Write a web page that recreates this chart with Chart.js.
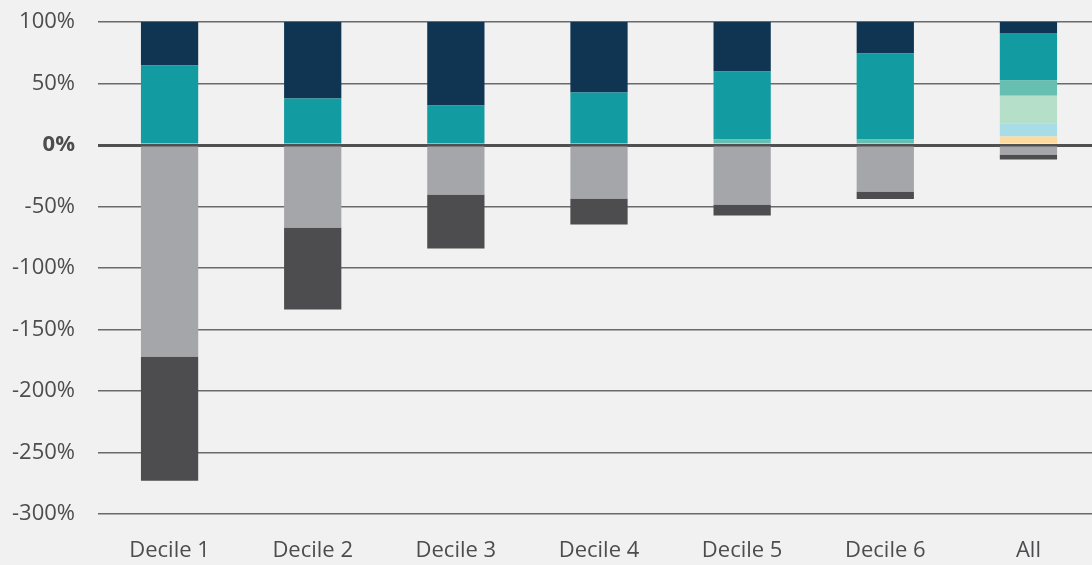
<!DOCTYPE html>
<html>
<head>
<meta charset="utf-8">
<script src="https://cdn.jsdelivr.net/npm/chart.js@4.4.1/dist/chart.umd.min.js"></script>
<style>
html,body{margin:0;padding:0;background:#f1f1f1;overflow:hidden;}
#wrap{width:1100px;height:565px;position:relative;}
</style>
</head>
<body>
<div id="wrap"><canvas id="c"></canvas></div>
<script>
const categories = ['Decile 1','Decile 2','Decile 3','Decile 4','Decile 5','Decile 6','All'];
const peach      = [0, 0, 0, 0, 0, 0, 6.9];
const lightBlue  = [0, 0, 0, 0, 1.2, 1.2, 10.8];
const lightGreen = [0, 0, 0, 0, 0, 0, 22.3];
const mint       = [0, 0, 0, 0, 3.3, 3.3, 12.4];
const teal       = [64.6, 37.8, 32.1, 42.7, 55.3, 69.9, 38.6];
const navy       = [35.4, 62.2, 67.9, 57.3, 40.2, 25.6, 9.0];
const grey       = [-172, -67, -40.2, -43.5, -48.4, -37.8, -7.7];
const darkGrey   = [-101, -66.7, -43.9, -21.1, -8.9, -6.2, -4.1];
const yTicks = [100, 50, 0, -50, -100, -150, -200, -250, -300];

const FONT = "'Open Sans', sans-serif";
const series = [
  {label:'Peach', data:peach, backgroundColor:'#fddba0'},
  {label:'Light blue', data:lightBlue, backgroundColor:'#a8dde8'},
  {label:'Light green', data:lightGreen, backgroundColor:'#b5dfc8'},
  {label:'Mint', data:mint, backgroundColor:'#66bfb0'},
  {label:'Teal', data:teal, backgroundColor:'#129ba0'},
  {label:'Navy', data:navy, backgroundColor:'#0f3552'},
  {label:'Grey', data:grey, backgroundColor:'#a5a6a9'},
  {label:'Dark grey', data:darkGrey, backgroundColor:'#4d4d4f'}
];

new Chart(document.getElementById('c'), {
  type: 'bar',
  data: {
    labels: categories,
    datasets: series.map(s => Object.assign({barPercentage:0.4, categoryPercentage:1, borderWidth:0}, s))
  },
  options: {
    responsive: true,
    maintainAspectRatio: false,
    devicePixelRatio: 1,
    animation: false,
    layout: {padding: {top: 22, right: 0, left: 0, bottom: 0}},
    plugins: {legend: {display:false}, tooltip: {enabled:false}},
    scales: {
      x: {
        stacked: true,
        afterFit: (axis) => { axis.height = 51; axis.paddingLeft = 0; axis.paddingRight = 0; },
        grid: {display:false, drawTicks:false},
        border: {display:false},
        ticks: {color:'#4d4d4f', font:{family:FONT, size:22}, padding: 24}
      },
      y: {
        stacked: true,
        min: -300, max: 100,
        afterBuildTicks: (axis) => { axis.ticks = yTicks.map(v => ({value: v})); },
        afterFit: (axis) => { axis.width = 98; axis.paddingTop = 0; axis.paddingBottom = 0; },
        grid: {
          drawTicks: false,
          color: (ctx) => ctx.tick && ctx.tick.value === 0 ? '#505050' : '#6a6a6a',
          lineWidth: (ctx) => ctx.tick && ctx.tick.value === 0 ? 3 : 1.5
        },
        border: {display:false},
        ticks: {
          color:'#4d4d4f',
          padding: 23,
          font: (ctx) => ({family:FONT, size:22, weight: ctx.tick && ctx.tick.value === 0 ? 'bold' : 'normal'}),
          callback: (v) => v + '%'
        }
      }
    }
  }
});
</script>
</body>
</html>
